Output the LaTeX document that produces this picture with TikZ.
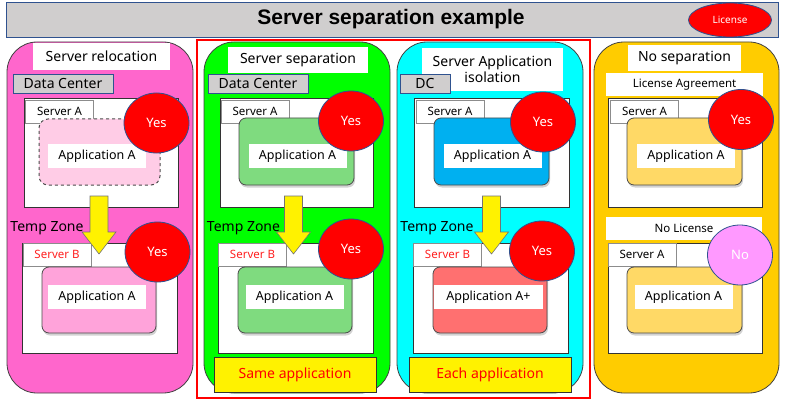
\documentclass[tikz,border=0pt]{standalone}
\usepackage{fontspec}
\setmainfont{Noto Sans}
\newfontfamily\titlefont{Liberation Sans}
\usepackage{xcolor}
\usetikzlibrary{positioning,shapes.geometric,shadows}

\definecolor{colpink}{HTML}{FF66CC}
\definecolor{colgreen}{HTML}{00FF00}
\definecolor{colcyan}{HTML}{00FFFF}
\definecolor{colgold}{HTML}{FFCC00}
\definecolor{boxgray}{HTML}{D0CECE}
\definecolor{edgeblue}{HTML}{2F528F}
\definecolor{apppale}{HTML}{FFCCE6}
\definecolor{apppink}{HTML}{FFA3DA}
\definecolor{appgreen}{HTML}{7FDB7F}
\definecolor{appblue}{HTML}{00B0F0}
\definecolor{appred}{HTML}{FF7070}
\definecolor{appgold}{HTML}{FFD966}
\definecolor{nopink}{HTML}{FF99FF}
\definecolor{tagred}{HTML}{FF2020}

\tikzset{
  column/.style={draw=black!75, line width=0.8pt, rounded corners=30pt, inner sep=0pt, minimum height=351pt},
  heading/.style={fill=white, inner sep=0pt, align=center, font=\fontsize{14}{16}\selectfont},
  place/.style={fill=boxgray, draw=edgeblue, line width=0.8pt, inner sep=0pt, minimum height=19pt, font=\fontsize{14}{16}\selectfont},
  serverbox/.style={fill=white, draw=black!80, line width=0.8pt, inner sep=0pt},
  servertag/.style={fill=white, draw=black!45, line width=0.6pt, inner sep=0pt, minimum width=68pt, minimum height=23pt, font=\fontsize{11.5}{13}\selectfont},
  app/.style={draw=black!70, line width=0.8pt, rounded corners=7pt, inner sep=0pt, minimum width=115pt, minimum height=66pt,
    drop shadow={shadow xshift=1pt, shadow yshift=-2.5pt, opacity=0.35}},
  applabel/.style={fill=white, inner sep=0pt, minimum width=98pt, minimum height=24pt, font=\fontsize{12.5}{14}\selectfont},
  verdict/.style={ellipse, fill=red, draw=edgeblue, line width=0.8pt, inner sep=0pt, minimum width=65pt, minimum height=60pt, text=white, font=\fontsize{13}{15}\selectfont},
  zone/.style={inner sep=0pt, font=\fontsize{14}{16}\selectfont},
  movearrow/.style={fill=yellow, draw=black!55, line width=0.6pt},
  note/.style={fill=yellow, draw=black!80, line width=0.8pt, inner sep=0pt, minimum width=162pt, minimum height=35pt, text=red, font=\fontsize{14}{16}\selectfont}
}

\begin{document}
\begin{tikzpicture}[x=1pt, y=-1pt]
  \useasboundingbox (0,0) rectangle (800,401);

  % title bar
  \node[fill=boxgray, draw=edgeblue, line width=0.8pt, inner sep=0pt, minimum width=772pt, minimum height=35pt] (titlebar) at (392,19.5) {};
  \node[font=\titlefont\fontsize{21}{24}\selectfont\bfseries] (title) at (391,19.5) {Server separation example};
  \node[ellipse, fill=red, draw=edgeblue, line width=0.8pt, inner sep=0pt, minimum width=83pt, minimum height=34pt, text=white, font=\fontsize{10}{12}\selectfont] (license) at (730,20) {License};

  % the four columns
  \node[column, fill=colpink, minimum width=186pt] (relocation) at (100,217.5) {};
  \node[column, fill=colgreen, minimum width=186pt] (separation) at (297,217.5) {};
  \node[column, fill=colcyan, minimum width=186pt] (isolation) at (490,217.5) {};
  \node[column, fill=colgold, minimum width=185pt] (noseparation) at (686.5,217.5) {};
  \node[draw=red, line width=2.8pt, inner sep=0pt, minimum width=393pt, minimum height=358pt] (frame) at (393.5,219) {};

  \node[heading, minimum width=137pt, minimum height=27pt] (head1) at (101.5,56.5) {Server relocation};
  \node[heading, minimum width=140pt, minimum height=26pt] (head2) at (298,60) {Server separation};
  \node[heading, minimum width=141pt, minimum height=43pt] (head3) at (492.5,69.5) {Server Application\\isolation};
  \node[heading, minimum width=113pt, minimum height=26pt] (head4) at (684.5,58) {No separation};

  \node[place, minimum width=100pt] (dc1) at (63,83.5) {Data Center};
  \node[place, minimum width=100pt] (dc2) at (258,83.5) {Data Center};
  \node[place, minimum width=50pt] (dc3) at (425,83.5) {DC};
  \node[heading, minimum width=157pt, minimum height=23pt, font=\fontsize{11.5}{13}\selectfont] (agreement) at (684.5,84.5) {License Agreement};
  \node[heading, minimum width=156pt, minimum height=23pt, font=\fontsize{11.5}{13}\selectfont] (nolicense) at (684,228.5) {No License};

  % servers
  \node[serverbox, minimum width=154pt, minimum height=109pt] (hostA1) at (101,152.5) {};
  \node[serverbox, minimum width=153pt, minimum height=109pt] (hostA2) at (296.5,152.5) {};
  \node[serverbox, minimum width=155pt, minimum height=109pt] (hostA3) at (491.5,152.5) {};
  \node[serverbox, minimum width=154pt, minimum height=109pt] (hostA4) at (685,152.5) {};
  \node[serverbox, minimum width=155pt, minimum height=110pt] (hostB1) at (99.5,298) {};
  \node[serverbox, minimum width=155pt, minimum height=110pt] (hostB2) at (295.5,298) {};
  \node[serverbox, minimum width=155pt, minimum height=110pt] (hostB3) at (490.5,298) {};
  \node[serverbox, minimum width=154pt, minimum height=110pt] (hostB4) at (685,298) {};

  \node[servertag] (tagA1) at (59.5,111.5) {Server A};
  \node[servertag] (tagA2) at (255,111.5) {Server A};
  \node[servertag] (tagA3) at (450,111.5) {Server A};
  \node[servertag] (tagA4) at (644.5,111.5) {Server A};
  \node[servertag, text=tagred] (tagB1) at (57,254.5) {Server B};
  \node[servertag, text=tagred] (tagB2) at (252.5,254.5) {Server B};
  \node[servertag, text=tagred] (tagB3) at (447.5,254.5) {Server B};
  \node[servertag] (tagB4) at (642,254.5) {Server A};

  % applications
  \node[draw=black!70, dashed, line width=1pt, fill=apppale, rounded corners=9pt, inner sep=0pt, minimum width=121pt, minimum height=66pt] (appA1) at (99.5,152) {};
  \node[app, fill=appgreen, minimum height=67pt] (appA2) at (296.5,151.5) {};
  \node[app, fill=appblue, minimum height=67pt] (appA3) at (491.5,151.5) {};
  \node[app, fill=appgold, minimum height=67pt] (appA4) at (684.5,151.5) {};
  \node[app, fill=apppink, minimum width=114pt] (appB1) at (99,300) {};
  \node[app, fill=appgreen, minimum width=114pt] (appB2) at (295,300) {};
  \node[app, fill=appred, minimum width=114pt] (appB3) at (490,300) {};
  \node[app, fill=appgold] (appB4) at (684.5,300) {};

  \node[applabel] (nameA1) at (97,156) {Application A};
  \node[applabel] (nameA2) at (297.5,156) {Application A};
  \node[applabel] (nameA3) at (492.5,156) {Application A};
  \node[applabel] (nameA4) at (686,156) {Application A};
  \node[applabel] (nameB1) at (97,297) {Application A};
  \node[applabel] (nameB2) at (294.5,297) {Application A};
  \node[applabel, minimum width=109pt] (nameB3) at (488.5,297) {Application A+};
  \node[applabel] (nameB4) at (683.5,297) {Application A};

  % moves
  \node[zone] (zone1) at (47,228) {Temp Zone};
  \node[zone] (zone2) at (243.5,228) {Temp Zone};
  \node[zone] (zone3) at (437,228) {Temp Zone};
  \foreach \ax in {99,293.5,491.5}
    \draw[movearrow] ({\ax-9},196) -- ({\ax+9},196) -- ({\ax+9},232) -- ({\ax+17},232)
      -- (\ax,254) -- ({\ax-17},232) -- ({\ax-9},232) -- cycle;

  % license checks
  \node[verdict] (okA1) at (156.5,123) {Yes};
  \node[verdict] (okA2) at (351,121) {Yes};
  \node[verdict] (okA3) at (543,122) {Yes};
  \node[verdict] (okA4) at (741,119.5) {Yes};
  \node[verdict] (okB1) at (157.5,252) {Yes};
  \node[verdict] (okB2) at (351,249) {Yes};
  \node[verdict] (okB3) at (542,251) {Yes};
  \node[verdict, fill=nopink] (ngB4) at (740,255) {No};

  \node[note] (same) at (295,374.5) {Same application};
  \node[note] (each) at (490,374.5) {Each application};
\end{tikzpicture}
\end{document}
